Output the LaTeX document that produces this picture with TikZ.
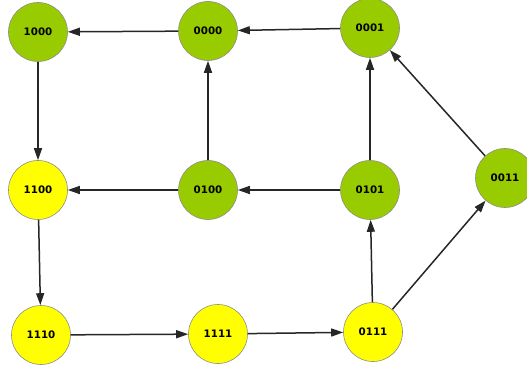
\documentclass[tikz,border=0pt]{standalone}
\usepackage{fontspec}
\setmainfont{DejaVu Sans}
\usetikzlibrary{arrows.meta}
\definecolor{gr}{HTML}{99CC00}
\definecolor{ye}{HTML}{FFFF00}
\definecolor{ol}{HTML}{8C8C8C}
\begin{document}
\begin{tikzpicture}[x=1pt,y=-1pt,
  st/.style={circle,draw=ol,line width=0.6pt,minimum size=59pt,inner sep=0pt,font=\bfseries\fontsize{10.3}{11}\selectfont},
  g/.style={st,fill=gr},
  yl/.style={st,fill=ye},
  ar/.style={-{Triangle[length=12pt,width=8pt]},line width=1.5pt,black!85}]
\useasboundingbox (0,0) rectangle (527,371);
\clip (0,0) rectangle (527,371);
\node[g] (n1000) at (38,32) {1000};
\node[g] (n0000) at (208,31) {0000};
\node[g] (n0001) at (370,28) {0001};
\node[yl] (n1100) at (38,190) {1100};
\node[g] (n0100) at (208,190) {0100};
\node[g] (n0101) at (370,190) {0101};
\node[g] (n0011) at (505,178) {0011};
\node[yl] (n1110) at (41,335) {1110};
\node[yl] (n1111) at (218,334) {1111};
\node[yl] (n0111) at (373,332) {0111};
\draw[ar] (n0000) -- (n1000);
\draw[ar] (n0001) -- (n0000);
\draw[ar] (n1000) -- (n1100);
\draw[ar] (n0100) -- (n0000);
\draw[ar] (n0101) -- (n0001);
\draw[ar] (n0011) -- (n0001);
\draw[ar] (n0100) -- (n1100);
\draw[ar] (n0101) -- (n0100);
\draw[ar] (n1100) -- (n1110);
\draw[ar] (n1110) -- (n1111);
\draw[ar] (n1111) -- (n0111);
\draw[ar] (n0111) -- (n0101);
\draw[ar] (n0111) -- (n0011);
\end{tikzpicture}
\end{document}
